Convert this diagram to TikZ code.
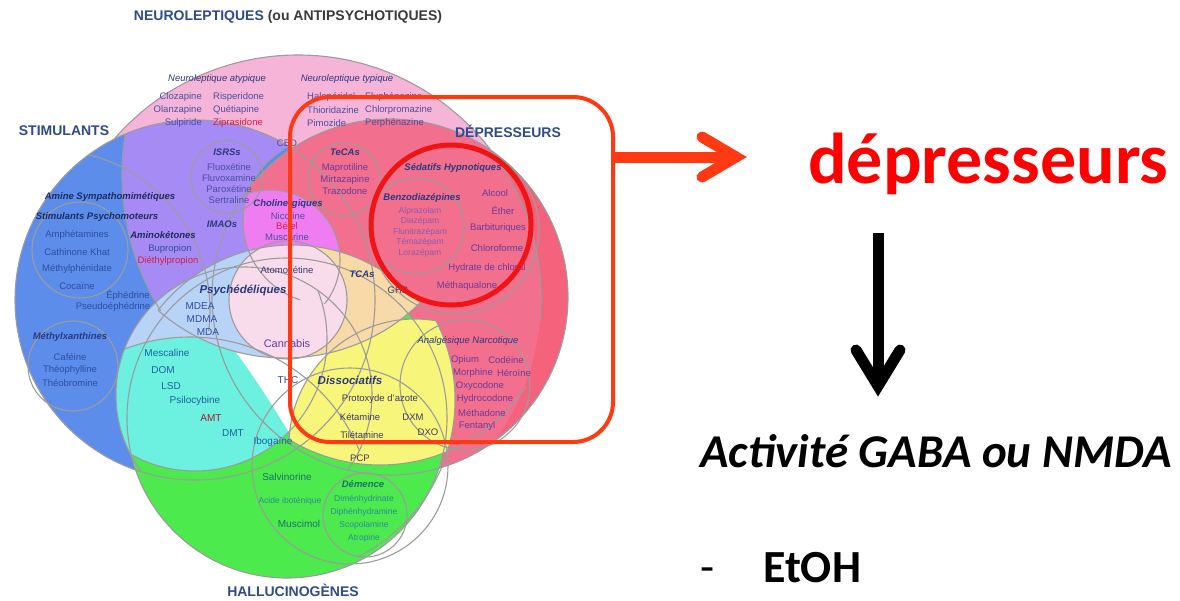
\documentclass[tikz,border=0pt]{standalone}
\usepackage{fontspec}
\setmainfont{Liberation Sans}
\newfontfamily\calibri{Carlito}
\usetikzlibrary{calc}

\definecolor{pinkN}{HTML}{F6B4D8}
\definecolor{blueS}{HTML}{5C8DEB}
\definecolor{redD}{HTML}{F4627B}
\definecolor{redN}{HTML}{F26F8E}
\definecolor{purpleSN}{HTML}{A58BF3}
\definecolor{magentaC}{HTML}{F07CF2}
\definecolor{greenH}{HTML}{4DEA4D}
\definecolor{lblue}{HTML}{B8D3F8}
\definecolor{cyanP}{HTML}{6CF0E0}
\definecolor{yellowD}{HTML}{F7F67A}
\definecolor{peach}{HTML}{F8D9A8}
\definecolor{cannabis}{HTML}{F9DCEB}
\definecolor{ringgrey}{HTML}{9C9C9C}
\definecolor{titleblue}{HTML}{2D4B8E}
\definecolor{titlegrey}{HTML}{3A3A3A}
\definecolor{catnavy}{HTML}{2B3A80}
\definecolor{catdark}{HTML}{1F2B5C}
\definecolor{drugblue}{HTML}{2F4E9E}
\definecolor{neurol}{HTML}{4A4FA0}
\definecolor{redtxt}{HTML}{D42040}
\definecolor{redpurp}{HTML}{6A3A9C}
\definecolor{benzo}{HTML}{8A5CAE}
\definecolor{teal}{HTML}{1D62A0}
\definecolor{demtxt}{HTML}{2A8A9A}
\definecolor{greentxt}{HTML}{1E6E6A}
\definecolor{yeltxt}{HTML}{3A3A66}
\definecolor{depred}{HTML}{FF0000}
\definecolor{boxred}{HTML}{FF3A12}
\definecolor{hlred}{HTML}{F01414}

\newcommand{\fsz}[1]{\fontsize{#1}{#1}\selectfont}
% circles of the venn (pixel coordinates, y going down)
\newcommand{\circN}{(298,298) circle[radius=243]}
\newcommand{\circS}{(195,300) circle[radius=180]}
\newcommand{\circD}{(390,297) circle[radius=178]}
\newcommand{\circH}{(287,418) circle[radius=160]}
\newcommand{\circP}{(380,175) circle[radius=258]}
\newcommand{\circR}{(326,221) circle[radius=83]}
\newcommand{\circM}{(270,260) circle[radius=70]}
\newcommand{\circPs}{(244,395) circle[radius=128]}
\newcommand{\circQ}{(190,520) circle[radius=183]}
\newcommand{\circG}{(195,339) circle[radius=132]}
\newcommand{\circYa}{(415,445) circle[radius=126]}
\newcommand{\circYb}{(380,290) circle[radius=175]}
\newcommand{\circYc}{(280,400) circle[radius=175]}
\newcommand{\circT}{(292,415) circle[radius=170]}
\newcommand{\circL}{(285,165) circle[radius=193]}
\newcommand{\circC}{(288,300) circle[radius=59]}

\tikzset{
  ring/.style={draw=ringgrey, line width=1.1pt},
  bigtitle/.style={font=\fsz{14}\bfseries, text=titleblue, inner sep=0pt},
  cat/.style={font=\fsz{9.5}\bfseries\itshape, text=catnavy, inner sep=0pt},
  drug/.style={font=\fsz{9.5}, text=drugblue, inner sep=0pt},
  smalldrug/.style={font=\fsz{8.5}, inner sep=0pt},
  redarrow/.style={draw=boxred, line width=11pt},
  blackarrow/.style={draw=black, line width=11pt},
}

\begin{document}
\begin{tikzpicture}[x=1pt, y=-1pt]
  \useasboundingbox (0,0) rectangle (1180,600);
  \fill[white] (0,0) rectangle (1180,600);

  % coloured regions
  \begin{scope}\clip (0,0) rectangle (600,300); \fill[pinkN] \circN; \end{scope}
  \fill[blueS] \circS;
  \fill[redD] \circD;
  \begin{scope}\clip \circN; \fill[redN] \circD; \end{scope}
  \begin{scope}
    \clip \circS; \clip \circP;
    \begin{scope}[even odd rule]
      \clip (0,0) rectangle (600,600) \circR;
      \fill[purpleSN] \circS;
    \end{scope}
  \end{scope}
  \begin{scope}\clip \circR; \fill[magentaC] \circM; \end{scope}
  \fill[greenH] \circH;
  \begin{scope}\clip (0,0) rectangle (600,360); \fill[lblue] \circPs; \end{scope}
  \begin{scope}\clip \circPs; \clip \circQ; \fill[cyanP] \circG; \end{scope}
  \fill[white] (225,338) -- (362,338) -- (335,442) -- (290,434) .. controls (272,405) and (252,372) .. cycle;
  \begin{scope}\clip \circYa; \clip \circYb; \fill[yellowD] \circYc; \end{scope}
  \begin{scope}
    \clip \circT; \clip \circL;
    \fill[lblue] (0,0) rectangle (288,600);
    \fill[peach] (288,0) rectangle (600,600);
    \fill[cannabis] \circC;
  \end{scope}

  % grey outlines
  \begin{scope}\clip (0,0) rectangle (600,140); \draw[ring] \circN; \end{scope}
  \begin{scope}\clip (470,140) rectangle (600,320); \draw[ring] \circN; \end{scope}
  \draw[ring] \circS;
  \draw[ring] \circD;
  \draw[ring] \circH;
  \draw[ring] \circC;
  \begin{scope}\clip \circS; \clip (0,0) rectangle (600,310); \draw[ring] \circP; \end{scope}
  \begin{scope}\clip \circS; \clip (0,0) rectangle (600,330); \draw[ring] (50,310) circle[radius=160]; \end{scope}
  \begin{scope}\clip (0,0) rectangle (600,470); \draw[ring] \circPs; \end{scope}
  \begin{scope}\clip \circPs; \draw[ring] \circQ; \draw[ring] \circG; \end{scope}
  \begin{scope}\clip \circL; \draw[ring] \circT; \end{scope}
  \begin{scope}\clip \circT; \draw[ring] \circL; \end{scope}
  \begin{scope}\clip \circYb; \clip \circYc; \draw[ring] \circYa; \end{scope}
  \begin{scope}\clip \circYa; \draw[ring] \circYb; \draw[ring] \circYc; \end{scope}
  \begin{scope}\clip (200,150) rectangle (300,300); \draw[ring] \circR; \end{scope}
  \begin{scope}\clip \circR; \draw[ring] \circM; \end{scope}
  \draw[ring] (227,177) circle[radius=36];
  \draw[ring] (344,179) circle[radius=36];
  \draw[ring] (416,226) circle[radius=48];
  \draw[ring] (455,230) circle[radius=84];
  \draw[ring] (73,366) circle[radius=45];
  \draw[ring] (80,250) circle[radius=48];
  \draw[ring] (465,385) circle[radius=65];
  \draw[ring] (350,466) circle[radius=98];
  \draw[ring] (365,515) circle[radius=42];

  % titles
  \node[bigtitle] (tneuro) at (288,17) {NEUROLEPTIQUES \textcolor{titlegrey}{(ou ANTIPSYCHOTIQUES)}};
  \node[bigtitle] (tstim) at (64,131) {STIMULANTS};
  \node[bigtitle] (tdep) at (508,131) {DÉPRESSEURS};
  \node[bigtitle] (thallu) at (293,590) {HALLUCINOGÈNES};

  % neuroleptiques
  \node[cat, font=\fsz{9.5}\itshape] (natyp) at (217,79) {Neuroleptique atypique};
  \node[cat, font=\fsz{9.5}\itshape] (ntyp) at (347,79) {Neuroleptique typique};
  \foreach \n [count=\i] in {Clozapine,Olanzapine,Sulpiride}
    \node[drug, text=neurol, anchor=east] (atya\i) at (202,84+13*\i) {\n};
  \foreach \n [count=\i] in {Risperidone,Quétiapine}
    \node[drug, text=neurol, anchor=west] (atyb\i) at (213,84+13*\i) {\n};
  \node[drug, text=redtxt, anchor=west] (atyb3) at (213,123) {Ziprasidone};
  \foreach \n [count=\i] in {Halopéridol,Thioridazine,Pimozide}
    \node[drug, text=neurol, anchor=west] (typa\i) at (307,84+13*\i) {\n};
  \foreach \n [count=\i] in {Fluphénazine,Chlorpromazine,Perphénazine}
    \node[drug, text=neurol, anchor=west] (typb\i) at (365,84+13*\i) {\n};
  \node[drug, text=neurol] (cbd) at (287,143) {CBD};

  % stimulants and antidepressants
  \node[cat] (isrs) at (227,152) {ISRSs};
  \foreach \n [count=\i] in {Fluoxétine,Fluvoxamine,Paroxétine,Sertraline}
    \node[drug, text=neurol] (isrs\i) at (229,156+11*\i) {\n};
  \node[cat] (imao) at (222,224) {IMAOs};
  \node[cat, text=catdark] (amine) at (110,197) {Amine Sympathomimétiques};
  \node[cat, text=catdark] (stimpsy) at (97,217) {Stimulants Psychomoteurs};
  \foreach \n [count=\i] in {Amphétamines,Cathinone Khat,Méthylphénidate,Cocaïne}
    \node[drug] (stim\i) at (77,218+17*\i) {\n};
  \node[cat, text=catdark] (amino) at (163,235) {Aminokétones};
  \node[drug] (bupro) at (170,249) {Bupropion};
  \node[drug, text=redtxt] (diethyl) at (168,261) {Diéthylpropion};
  \node[drug] (ephe) at (128,295) {Éphédrine};
  \node[drug] (pseudo) at (113,307) {Pseudoéphédrine};
  \node[cat] (methyl) at (70,337) {Méthylxanthines};
  \foreach \n [count=\i] in {Caféine,Théophylline,Théobromine}
    \node[drug] (xan\i) at (70,344+13*\i) {\n};

  % centre
  \node[cat] (choli) at (288,204) {Cholinergiques};
  \node[drug, text=neurol] (nico) at (288,216) {Nicotine};
  \node[drug, text=redtxt] (betel) at (287,226) {Bétel};
  \node[drug, text=neurol] (musca) at (287,237) {Muscarine};
  \node[drug, text=yeltxt] (atomo) at (287,270) {Atomoxétine};
  \node[cat, font=\fsz{11.5}\bfseries\itshape] (psyche) at (243,290) {Psychédéliques};
  \node[cat] (tca) at (362,274) {TCAs};
  \node[drug, text=yeltxt] (ghb) at (398,290) {GHB};
  \node[drug, font=\fsz{10}] (mdea) at (200,306) {MDEA};
  \node[drug, font=\fsz{10}] (mdma) at (202,319) {MDMA};
  \node[drug, font=\fsz{10}] (mda) at (208,332) {MDA};
  \node[drug, font=\fsz{11}, text=redpurp] (canna) at (287,344) {Cannabis};
  \node[drug, font=\fsz{10}, text=drugblue] (thc) at (288,380) {THC};

  % depresseurs
  \node[cat] (tecas) at (345,152) {TeCAs};
  \foreach \n [count=\i] in {Maprotiline,Mirtazapine,Trazodone}
    \node[drug, text=redpurp] (teca\i) at (345,157+11.5*\i) {\n};
  \node[cat, font=\fsz{9.5}\itshape\bfseries] (sedat) at (453,168) {Sédatifs Hypnotiques};
  \node[cat] (benz) at (422,198) {Benzodiazépines};
  \foreach \n [count=\i] in {Alprazolam,Diazépam,Flunitrazépam,Témazépam,Lorazépam}
    \node[smalldrug, text=benzo] (benz\i) at (420,200.5+10.5*\i) {\n};
  \node[drug, text=redpurp] (alcool) at (495,193) {Alcool};
  \node[drug, text=redpurp] (ether) at (503,210) {Éther};
  \node[drug, text=redpurp] (barbi) at (498,228) {Barbituriques};
  \node[drug, text=redpurp] (chloro) at (497,248) {Chloroforme};
  \node[drug, text=redpurp] (hydrate) at (487,268) {Hydrate de chloral};
  \node[drug, text=redpurp] (metha) at (467,286) {Méthaqualone};
  \node[cat, font=\fsz{9.5}\itshape] (analg) at (468,341) {Analgésique Narcotique};
  \node[drug, text=redpurp] (opium) at (465,360) {Opium};
  \node[drug, text=redpurp] (codeine) at (506,360) {Codéine};
  \node[drug, text=redpurp] (morph) at (473,373) {Morphine};
  \node[drug, text=redpurp] (hero) at (514,373) {Héroïne};
  \node[drug, text=redpurp] (oxy) at (480,386) {Oxycodone};
  \node[drug, text=redpurp] (hydro) at (485,399) {Hydrocodone};
  \node[drug, text=redpurp] (methad) at (482,413) {Méthadone};
  \node[drug, text=redpurp] (fenta) at (477,426) {Fentanyl};

  % hallucinogenes
  \node[drug, font=\fsz{10}, text=teal] (mesca) at (167,353) {Mescaline};
  \node[drug, font=\fsz{10}, text=teal] (dom) at (163,370) {DOM};
  \node[drug, font=\fsz{10}, text=teal] (lsd) at (171,386) {LSD};
  \node[drug, font=\fsz{10}, text=teal] (psilo) at (195,401) {Psilocybine};
  \node[drug, font=\fsz{10}, text=redtxt!80!black] (amt) at (211,418) {AMT};
  \node[drug, font=\fsz{10}, text=teal] (dmt) at (233,433) {DMT};
  \node[drug, font=\fsz{10}, text=teal] (ibo) at (273,442) {Ibogaïne};
  \node[cat, font=\fsz{11.5}\bfseries\itshape] (disso) at (350,380) {Dissociatifs};
  \node[drug, text=yeltxt] (proto) at (380,399) {Protoxyde d'azote};
  \node[drug, text=yeltxt] (keta) at (360,417) {Kétamine};
  \node[drug, text=yeltxt] (dxm) at (413,417) {DXM};
  \node[drug, text=yeltxt] (tile) at (362,435) {Tilétamine};
  \node[drug, text=yeltxt] (dxo) at (428,432) {DXO};
  \node[drug, text=yeltxt] (pcp) at (360,458) {PCP};
  \node[drug, font=\fsz{10}, text=greentxt] (salvi) at (287,477) {Salvinorine};
  \node[smalldrug, text=demtxt] (acide) at (290,501) {Acide iboténique};
  \node[drug, font=\fsz{10}, text=greentxt] (musci) at (299,524) {Muscimol};
  \node[cat, text=greentxt] (demence) at (363,484) {Démence};
  \foreach \n [count=\i] in {Diménhydrinate,Diphénhydramine,Scopolamine,Atropine}
    \node[smalldrug, text=demtxt] (dem\i) at (364,486.5+13*\i) {\n};

  % highlight
  \node[draw=boxred, line width=4pt, rounded corners=40pt, minimum width=323pt, minimum height=345pt, inner sep=0pt] (box) at (451.5,269.5) {};
  \node[circle, draw=hlred, line width=5pt, minimum size=160pt, inner sep=0pt] (hilite) at (451,225) {};

  % right side
  \node[anchor=base west, inner sep=0pt, text=depred, font=\calibri\bfseries\fsz{72}] (dep) at (808,183) {dépresseurs};
  \node[anchor=base west, inner sep=0pt, font=\calibri\bfseries\itshape\fsz{47}] (gaba) at (700,467) {Activité GABA ou NMDA};
  \node[anchor=base west, inner sep=0pt, font=\calibri\fsz{46}] (dash) at (700,582) {-};
  \node[anchor=base west, inner sep=0pt, font=\calibri\bfseries\fsz{46}] (etoh) at (763,582) {EtOH};

  \coordinate (redtip) at (736,157);
  \coordinate (blacktop) at (878,233);
  \coordinate (blacktip) at (878,386);
  \draw[redarrow] (box.east |- redtip) -- (redtip);
  \draw[redarrow, line cap=round, line join=miter] ($(redtip)+(-34,-20)$) -- (redtip) -- ($(redtip)+(-34,20)$);
  \draw[blackarrow] (blacktop) -- (blacktip);
  \draw[blackarrow, line cap=round, line join=miter] ($(blacktip)+(-22,-36)$) -- (blacktip) -- ($(blacktip)+(22,-36)$);
\end{tikzpicture}
\end{document}
